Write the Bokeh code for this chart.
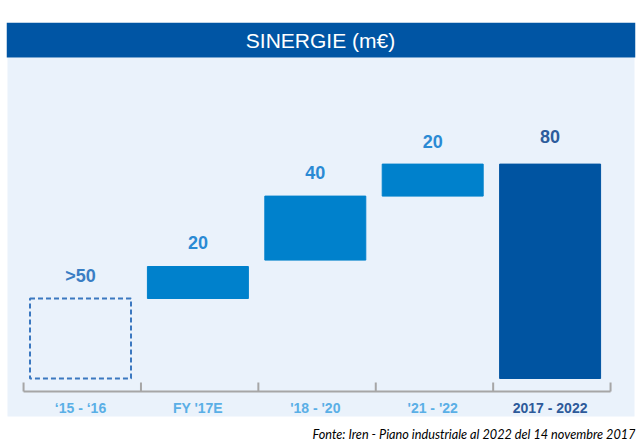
from bokeh.plotting import figure
from bokeh.models import BoxAnnotation, ColumnDataSource
from bokeh.core.properties import value
from bokeh.embed import file_html
from bokeh.resources import INLINE

# ---- data ----
categories = ["\u201815 - \u201816", "FY '17E", "'18 - '20", "'21 - '22", "2017 - 2022"]
value_labels = [">50", "20", "40", "20", "80"]
# stylised waterfall: bottom / top of every block, in chart units
bar_bottom = [0, 50, 74, 114, 0]
bar_top = [50, 70, 114, 134, 134]

title_text = "SINERGIE (m\u20ac)"
source_text = "Fonte: Iren - Piano industriale al 2022 del 14 novembre 2017"

# ---- styles ----
bar_fill = [None, "#0081CC", "#0081CC", "#0081CC", "#0054A1"]
bar_line = ["#3B78C0", "#0081CC", "#0081CC", "#0081CC", "#0054A1"]
bar_dash = ["5 3", "solid", "solid", "solid", "solid"]
value_color = ["#3A7EC4", "#2A8AD4", "#2A8AD4", "#2A8AD4", "#2D5C9C"]
cat_color = ["#5AAFE6", "#5AAFE6", "#5AAFE6", "#5AAFE6", "#2D5A9A"]
label_lift = [23, 24, 24, 23, 28]

W, H = 642, 442
PX = 1.6          # pixels per chart unit (vertical)
BASE_Y = 378      # y of the zero line
FRAME_TOP = 22
FRAME_BOTTOM = 442
LEFT = 6
RIGHT = 635
CAT_W = 117.4     # pixels per category
CAT0_X = 80       # x of first category centre


def ydat(py):
    return (BASE_Y - py) / PX


def xdat(px):
    return (px - CAT0_X) / CAT_W


xs = list(range(len(categories)))
src = ColumnDataSource(dict(
    x=xs, top=bar_top, vlab=value_labels, vcol=value_color,
    cat=categories, ccol=cat_color, lift=[-v for v in label_lift],
))

p = figure(width=W, height=H, output_backend="svg", toolbar_location=None,
           x_range=(xdat(LEFT), xdat(RIGHT)),
           y_range=(ydat(FRAME_BOTTOM), ydat(FRAME_TOP)),
           x_axis_location=None, y_axis_location=None,
           min_border_left=LEFT, min_border_right=W - RIGHT,
           min_border_top=FRAME_TOP, min_border_bottom=H - FRAME_BOTTOM)
p.xgrid.visible = False
p.ygrid.visible = False
p.outline_line_color = None
p.background_fill_color = "white"
p.border_fill_color = "white"

# panel backgrounds
p.add_layout(BoxAnnotation(bottom=ydat(416), top=ydat(57), left=xdat(7), right=xdat(634),
                           fill_color="#EAF2FB", fill_alpha=1, line_color=None,
                           level="underlay"))
p.add_layout(BoxAnnotation(bottom=ydat(57), fill_color="#0055A4",
                           fill_alpha=1, line_color=None, level="underlay"))

# title
p.text(x=[xdat(320)], y=[ydat(39.5)], text=[title_text], text_color="white",
       text_font=value("Liberation Sans"), text_font_size="21px",
       text_align="center", text_baseline="middle")

# bars
for i in xs:
    p.vbar(x=[i], width=0.86, bottom=[bar_bottom[i]], top=[bar_top[i]],
           fill_color=bar_fill[i] if bar_fill[i] else "white",
           fill_alpha=1 if bar_fill[i] else 0,
           line_color=bar_line[i], line_width=2 if bar_fill[i] is None else 1,
           line_dash=bar_dash[i])

# value labels
p.text(x="x", y="top", text="vlab", source=src, text_color="vcol",
       y_offset="lift", text_font=value("Liberation Sans"), text_font_size="18px",
       text_font_style="bold", text_align="center", text_baseline="middle")

# category axis (line with upward ticks)
n = len(categories)
bounds = [i - 0.5 + 0.015 for i in range(n + 1)]
axis_y = ydat(391)
p.segment(x0=[bounds[0]], x1=[bounds[-1]], y0=[axis_y], y1=[axis_y],
          line_color="#A6A6A6", line_width=2)
p.segment(x0=bounds, x1=bounds, y0=[axis_y] * len(bounds),
          y1=[ydat(382)] * len(bounds), line_color="#A6A6A6", line_width=2)

p.text(x="x", y=ydat(407.5), text="cat", source=src, text_color="ccol",
       text_font=value("Liberation Sans"), text_font_size="14px",
       text_font_style="bold", text_align="center", text_baseline="middle")

# source note
p.text(x=[xdat(RIGHT)], y=[ydat(433)], text=[source_text], text_color="black",
       text_font=value("Lato"), text_font_size="12.7px", text_font_style="italic",
       text_align="right", text_baseline="alphabetic")

open("out.html", "w").write(file_html(p, INLINE))
